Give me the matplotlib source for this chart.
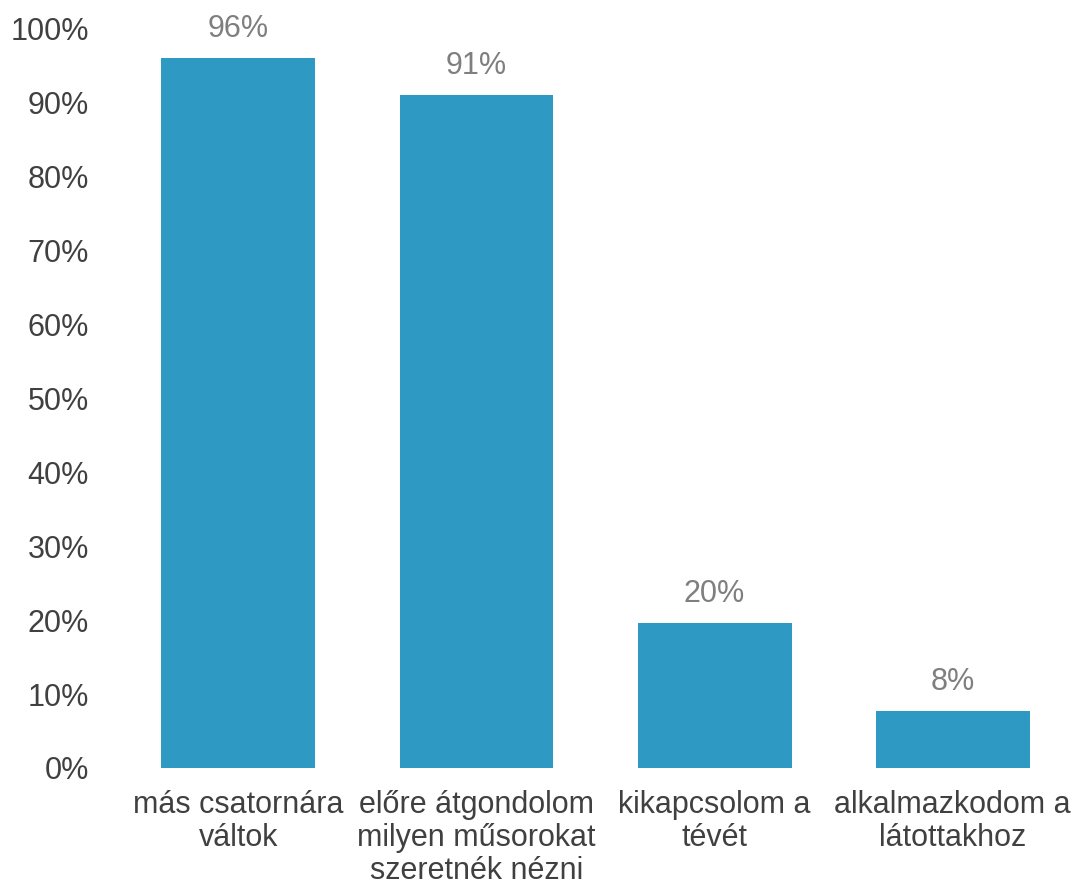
import matplotlib
matplotlib.use("Agg")
import matplotlib.pyplot as plt
from matplotlib.ticker import FuncFormatter

categories = ["más csatornára\nváltok",
              "előre átgondolom\nmilyen műsorokat\nszeretnék nézni",
              "kikapcsolom a\ntévét",
              "alkalmazkodom a\nlátottakhoz"]
values = [96, 91, 19.6, 7.7]
value_labels = ["96%", "91%", "20%", "8%"]
yticks = list(range(0, 101, 10))

plt.rcParams['font.family'] = ['Liberation Sans', 'DejaVu Sans']

fig = plt.figure(figsize=(10.75, 8.86), dpi=100)
ax = fig.add_axes([0.111, 0.1332, 0.886, 0.835])

x = list(range(len(categories)))
bars = ax.bar(x, values, width=0.646, color="#2E9AC4", zorder=2)

for b, lab in zip(bars, value_labels):
    ax.annotate(lab, (b.get_x() + b.get_width() / 2, b.get_height()),
                xytext=(0, 10), textcoords="offset points",
                ha="center", va="bottom", fontsize=22, color="#7F7F7F")

ax.set_xlim(-0.5, len(categories) - 0.5)
ax.set_ylim(0, 100)
ax.set_yticks(yticks)
ax.yaxis.set_major_formatter(FuncFormatter(lambda v, p: f"{int(v)}%"))
ax.set_xticks(x)
ax.set_xticklabels(categories, fontsize=22, color="#404040", linespacing=1.12)
ax.tick_params(axis="y", labelsize=22, labelcolor="#404040", length=0, pad=22)
ax.tick_params(axis="x", length=0, pad=16)
for s in ax.spines.values():
    s.set_visible(False)

fig.savefig("out.png", dpi=100)
